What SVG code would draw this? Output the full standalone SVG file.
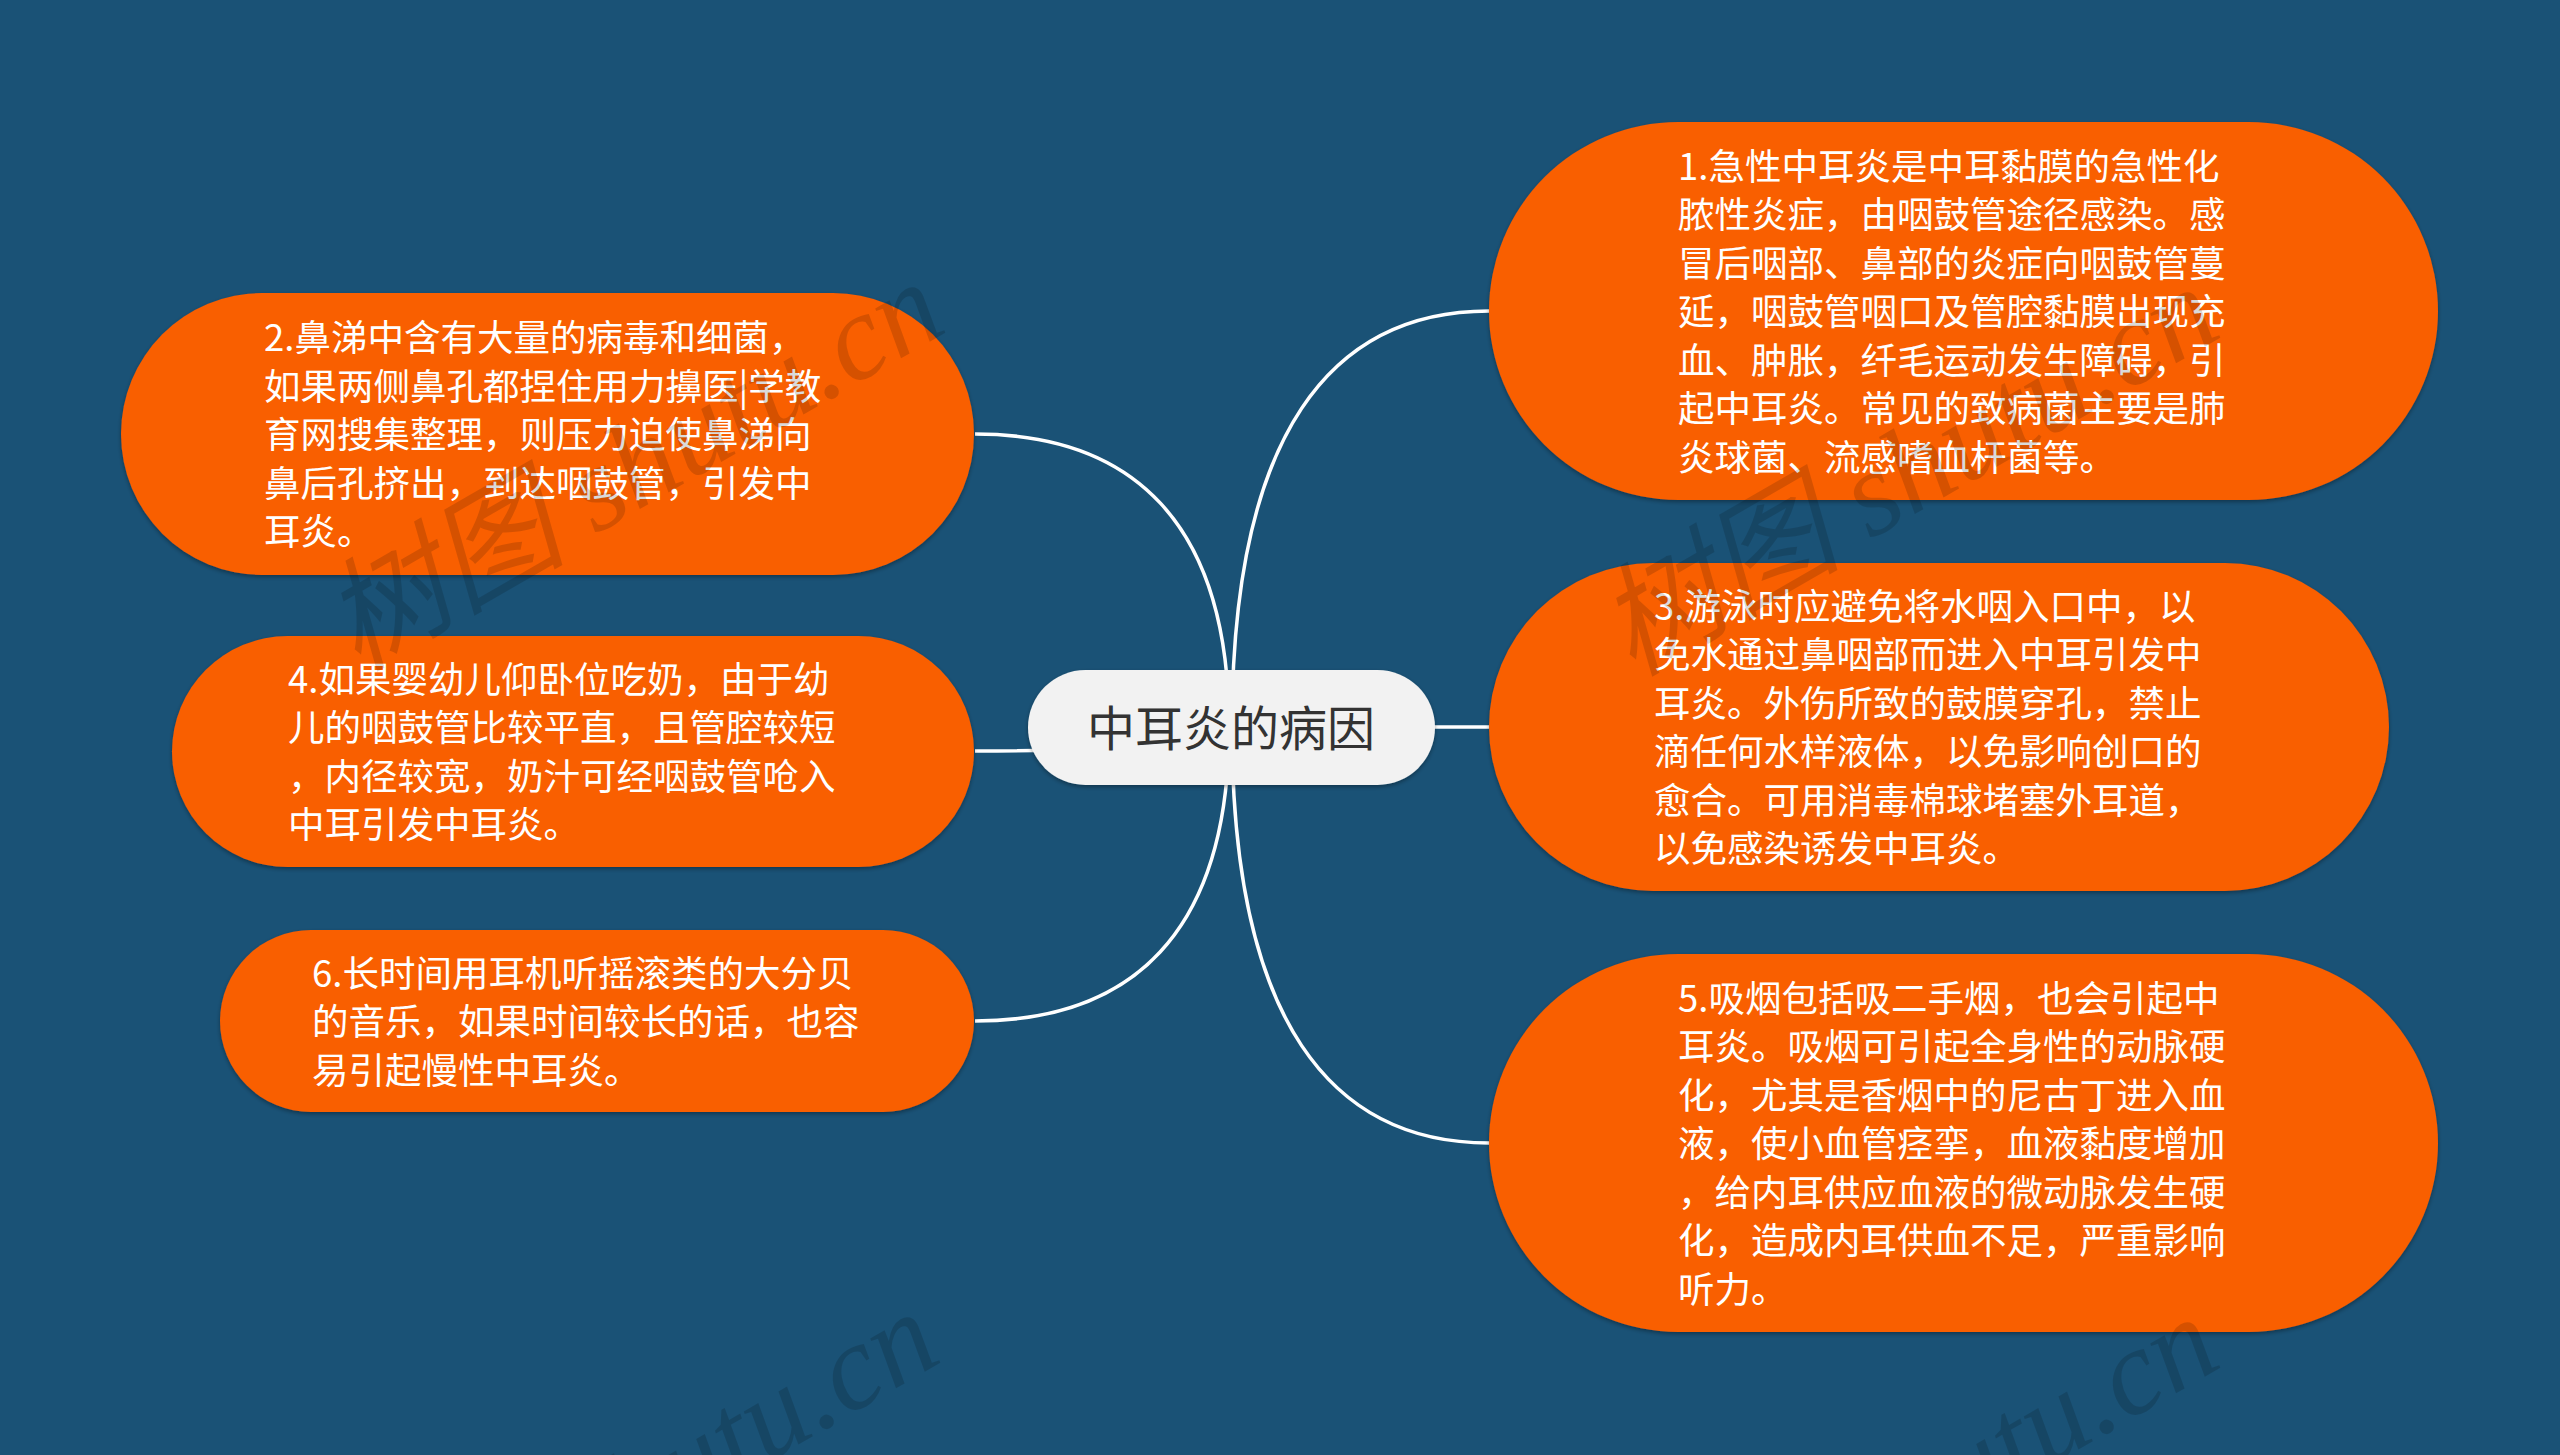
<svg xmlns="http://www.w3.org/2000/svg" width="2560" height="1455" viewBox="0 0 2560 1455">
<defs>
<filter id="sh" x="-5%" y="-10%" width="110%" height="125%">
<feDropShadow dx="0" dy="2" stdDeviation="2" flood-color="#000" flood-opacity="0.35"/>
</filter>
<style>
.bg{fill:#1A5276}
.conn{fill:none;stroke:#FFFFFF;stroke-width:3.5}
.box{fill:#F95E06;filter:url(#sh)}
.center{fill:#F2F2F2;filter:url(#sh)}
.t{font-family:"Noto Sans CJK SC","Noto Sans",sans-serif;font-size:36.5px;fill:#FFFFFF}
.ct{font-family:"Noto Sans CJK SC","Noto Sans",sans-serif;font-size:48px;fill:#333333;text-anchor:middle}
.wm{font-family:"Liberation Serif","Noto Sans CJK SC",serif;font-style:italic;font-size:122px;fill:#000000;opacity:0.14;text-anchor:end}
</style>
</defs>
<rect class="bg" x="0" y="0" width="2560" height="1455"/>
<g id="connectors">
<path class="conn" d="M 975 434 C 1130 434 1229 520 1229 727"/>
<path class="conn" d="M 975 751 C 1100 751 1229 745 1229 727"/>
<path class="conn" d="M 975 1021 C 1130 1021 1229 935 1229 727"/>
<path class="conn" d="M 1489 311 C 1332 311 1232 432 1232 727"/>
<path class="conn" d="M 1489 727 L 1232 727"/>
<path class="conn" d="M 1489 1143 C 1332 1143 1232 1022 1232 727"/>
</g>
<g id="node-center">
<rect class="center" x="1028" y="670" width="407" height="115" rx="57.5" ry="57.5"/>
<text class="ct" x="1231" y="746">中耳炎的病因</text>
</g>
<g id="node-1">
<rect class="box" x="1489" y="122" width="949" height="378" rx="189" ry="189"/>
<text class="t" x="1678" y="179.5"><tspan x="1678">1.急性中耳炎是中耳黏膜的急性化</tspan><tspan x="1678" dy="48.5">脓性炎症，由咽鼓管途径感染。感</tspan><tspan x="1678" dy="48.5">冒后咽部、鼻部的炎症向咽鼓管蔓</tspan><tspan x="1678" dy="48.5">延，咽鼓管咽口及管腔黏膜出现充</tspan><tspan x="1678" dy="48.5">血、肿胀，纤毛运动发生障碍，引</tspan><tspan x="1678" dy="48.5">起中耳炎。常见的致病菌主要是肺</tspan><tspan x="1678" dy="48.5">炎球菌、流感嗜血杆菌等。</tspan></text>
</g>
<g id="node-2">
<rect class="box" x="121" y="293" width="853" height="282" rx="141" ry="141"/>
<text class="t" x="264" y="351"><tspan x="264">2.鼻涕中含有大量的病毒和细菌，</tspan><tspan x="264" dy="48.5">如果两侧鼻孔都捏住用力擤医|学教</tspan><tspan x="264" dy="48.5">育网搜集整理，则压力迫使鼻涕向</tspan><tspan x="264" dy="48.5">鼻后孔挤出，到达咽鼓管，引发中</tspan><tspan x="264" dy="48.5">耳炎。</tspan></text>
</g>
<g id="node-3">
<rect class="box" x="1489" y="563" width="900" height="328" rx="164" ry="164"/>
<text class="t" x="1654" y="619.5"><tspan x="1654">3.游泳时应避免将水咽入口中，以</tspan><tspan x="1654" dy="48.5">免水通过鼻咽部而进入中耳引发中</tspan><tspan x="1654" dy="48.5">耳炎。外伤所致的鼓膜穿孔，禁止</tspan><tspan x="1654" dy="48.5">滴任何水样液体，以免影响创口的</tspan><tspan x="1654" dy="48.5">愈合。可用消毒棉球堵塞外耳道，</tspan><tspan x="1654" dy="48.5">以免感染诱发中耳炎。</tspan></text>
</g>
<g id="node-4">
<rect class="box" x="172" y="636" width="802" height="231" rx="115.5" ry="115.5"/>
<text class="t" x="288" y="692.75"><tspan x="288">4.如果婴幼儿仰卧位吃奶，由于幼</tspan><tspan x="288" dy="48.5">儿的咽鼓管比较平直，且管腔较短</tspan><tspan x="288" dy="48.5">，内径较宽，奶汁可经咽鼓管呛入</tspan><tspan x="288" dy="48.5">中耳引发中耳炎。</tspan></text>
</g>
<g id="node-5">
<rect class="box" x="1489" y="954" width="949" height="378" rx="189" ry="189"/>
<text class="t" x="1678" y="1011.5"><tspan x="1678">5.吸烟包括吸二手烟，也会引起中</tspan><tspan x="1678" dy="48.5">耳炎。吸烟可引起全身性的动脉硬</tspan><tspan x="1678" dy="48.5">化，尤其是香烟中的尼古丁进入血</tspan><tspan x="1678" dy="48.5">液，使小血管痉挛，血液黏度增加</tspan><tspan x="1678" dy="48.5">，给内耳供应血液的微动脉发生硬</tspan><tspan x="1678" dy="48.5">化，造成内耳供血不足，严重影响</tspan><tspan x="1678" dy="48.5">听力。</tspan></text>
</g>
<g id="node-6">
<rect class="box" x="220" y="930" width="754" height="182" rx="91" ry="91"/>
<text class="t" x="312" y="986.5"><tspan x="312">6.长时间用耳机听摇滚类的大分贝</tspan><tspan x="312" dy="48.5">的音乐，如果时间较长的话，也容</tspan><tspan x="312" dy="48.5">易引起慢性中耳炎。</tspan></text>
</g>
<g id="watermark">
<text class="wm" transform="translate(950 330) rotate(-30)">树图 shutu.cn</text>
<text class="wm" transform="translate(2225 335) rotate(-30)">树图 shutu.cn</text>
<text class="wm" transform="translate(945 1360) rotate(-30)">树图 shutu.cn</text>
<text class="wm" transform="translate(2225 1365) rotate(-30)">树图 shutu.cn</text>
</g>
</svg>
